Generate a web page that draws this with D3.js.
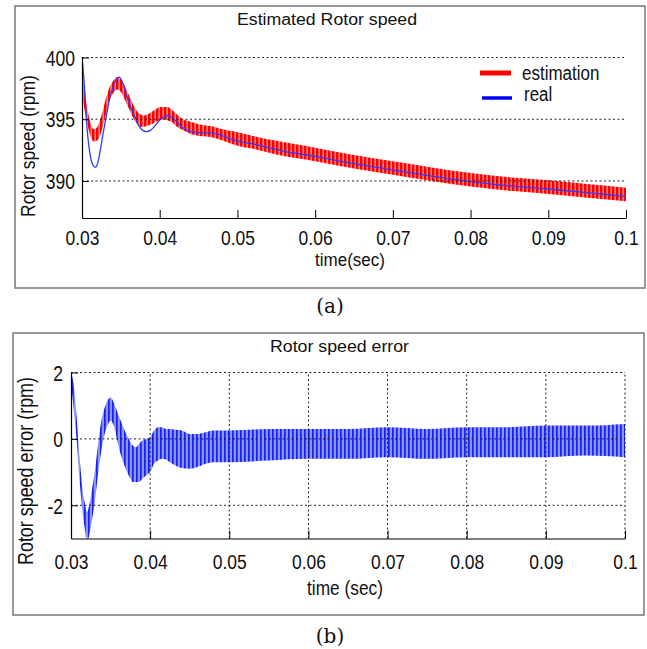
<!DOCTYPE html>
<html>
<head>
<meta charset="utf-8">
<script src="https://cdn.jsdelivr.net/npm/d3@7"></script>
<style>
body { margin: 0; background: #fff; }
text { font-family: "Liberation Sans", Arial, sans-serif; fill: #111; }
</style>
</head>
<body>
<svg id="chart" width="647" height="649"></svg>
<script>
// time axis, shared by both panels
const timeTicks = [0.03, 0.04, 0.05, 0.06, 0.07, 0.08, 0.09, 0.1];
const timeLabels = ["0.03", "0.04", "0.05", "0.06", "0.07", "0.08", "0.09", "0.1"];
const speedTicks = [390, 395, 400];
const errTicks = [-2, 0, 2];
const errLabels = ["-2", "0", "2"];

// (a) real speed [t, rpm]
const realSpeed = [
  [0.0300, 400.0], [0.0303, 397.8], [0.0306, 394.7], [0.0310, 392.3], [0.0314, 391.3],
  [0.0317, 391.1], [0.0320, 391.4], [0.0323, 392.3], [0.0327, 393.8], [0.0332, 395.5],
  [0.0336, 396.8], [0.0340, 397.6], [0.0344, 398.2], [0.0348, 398.4], [0.0352, 398.0],
  [0.0357, 397.0], [0.0362, 396.1], [0.0368, 395.2], [0.0373, 394.5], [0.0378, 394.1],
  [0.0383, 394.0], [0.0388, 394.1], [0.0393, 394.4], [0.0398, 394.8], [0.0403, 395.1],
  [0.0409, 395.3], [0.0414, 395.2], [0.0420, 394.9], [0.0428, 394.4], [0.0436, 394.1],
  [0.0445, 393.95], [0.0455, 393.9], [0.0465, 393.9], [0.0475, 393.8], [0.0495, 393.3],
  [0.0520, 393.0], [0.0560, 392.4], [0.0600, 392.0], [0.0650, 391.4], [0.0700, 390.9],
  [0.0750, 390.4], [0.0800, 389.95], [0.0850, 389.6], [0.0900, 389.35], [0.0950, 389.05],
  [0.1000, 388.75]
];

// (a) estimated speed, ripple envelope [t, low, high]
const estBand = [
  [0.0300, 396.8, 398.8], [0.0305, 395.2, 396.6], [0.0310, 393.8, 394.9], [0.0315, 393.2, 394.2],
  [0.0320, 393.3, 394.4], [0.0325, 394.0, 395.3], [0.0330, 395.2, 396.5], [0.0335, 396.4, 397.5],
  [0.0340, 397.1, 398.1], [0.0345, 397.4, 398.4], [0.0350, 397.2, 398.2], [0.0355, 396.6, 397.7],
  [0.0360, 395.9, 397.0], [0.0365, 395.2, 396.3], [0.0370, 394.7, 395.7], [0.0375, 394.4, 395.4],
  [0.0380, 394.4, 395.3], [0.0385, 394.5, 395.4], [0.0390, 394.6, 395.6], [0.0395, 394.8, 395.8],
  [0.0400, 394.9, 396.0], [0.0405, 395.0, 396.0], [0.0410, 394.9, 396.0], [0.0415, 394.8, 395.8],
  [0.0420, 394.5, 395.5], [0.0430, 394.1, 395.0], [0.0440, 393.8, 394.8], [0.0450, 393.65, 394.6],
  [0.0460, 393.6, 394.5], [0.0470, 393.5, 394.4], [0.0480, 393.3, 394.2], [0.0500, 392.85, 393.95],
  [0.0520, 392.6, 393.65], [0.0550, 392.15, 393.25], [0.0600, 391.6, 392.7], [0.0650, 391.0, 392.1],
  [0.0700, 390.5, 391.6], [0.0750, 390.0, 391.1], [0.0800, 389.55, 390.65], [0.0850, 389.2, 390.3],
  [0.0900, 388.95, 390.05], [0.0950, 388.65, 389.75], [0.1000, 388.35, 389.45]
];

// (b) speed error, ripple envelope [t, low, high]
const errBand = [
  [0.0300, 1.7, 2.0], [0.0303, 1.0, 1.7], [0.0307, 0.0, 0.7], [0.0311, -1.3, -0.6],
  [0.0315, -2.3, -1.6], [0.0318, -2.8, -2.0], [0.0320, -3.1, -2.2], [0.0323, -2.9, -2.0],
  [0.0326, -2.5, -1.6], [0.0330, -1.9, -1.0], [0.0334, -1.1, -0.2], [0.0338, -0.4, 0.5],
  [0.0342, 0.1, 0.9], [0.0346, 0.4, 1.15], [0.0350, 0.55, 1.25], [0.0354, 0.4, 1.1],
  [0.0358, 0.0, 0.85], [0.0362, -0.4, 0.6], [0.0366, -0.7, 0.35], [0.0370, -0.95, 0.15],
  [0.0374, -1.15, -0.05], [0.0378, -1.3, -0.2], [0.0382, -1.3, -0.25], [0.0386, -1.3, -0.15],
  [0.0390, -1.2, -0.05], [0.0395, -1.1, 0.0], [0.0400, -1.0, 0.05], [0.0405, -0.75, 0.25],
  [0.0410, -0.65, 0.35], [0.0415, -0.6, 0.35], [0.0420, -0.62, 0.3], [0.0425, -0.7, 0.3],
  [0.0430, -0.78, 0.28], [0.0440, -0.88, 0.25], [0.0450, -0.9, 0.15], [0.0460, -0.85, 0.15],
  [0.0470, -0.75, 0.2], [0.0480, -0.7, 0.25], [0.0500, -0.7, 0.25], [0.0550, -0.65, 0.3],
  [0.0600, -0.6, 0.3], [0.0650, -0.6, 0.3], [0.0700, -0.55, 0.35], [0.0750, -0.6, 0.3],
  [0.0800, -0.55, 0.35], [0.0850, -0.55, 0.35], [0.0900, -0.55, 0.4], [0.0950, -0.5, 0.4],
  [0.1000, -0.55, 0.45]
];

let svg = d3.select("#chart");
let defs = svg.append("defs");

// vertical stripes give the dense ripple look
function stripes(id, base, line, w) {
  let p = defs.append("pattern")
    .attr("id", id)
    .attr("patternUnits", "userSpaceOnUse")
    .attr("width", 4).attr("height", 10);
  p.append("rect").attr("width", 4).attr("height", 10).attr("fill", base);
  p.append("rect").attr("width", w).attr("height", 10).attr("fill", line);
}
stripes("redRipple", "#ff8585", "#ff0000", 2.4);
stripes("blueRipple", "#8a94f6", "#1620f0", 1.7);

function styleTicks(g, size) {
  g.attr("font-size", null).attr("font-family", null);
  g.select(".domain").attr("stroke", "#000").attr("stroke-width", 1.2);
  g.selectAll(".tick line").attr("stroke", "#000");
  g.selectAll("text").style("font-size", size + "px").attr("fill", "#111");
}

function frame(x, y, w, h) {
  svg.append("rect")
    .attr("x", x).attr("y", y).attr("width", w).attr("height", h)
    .attr("fill", "none").attr("stroke", "#777").attr("stroke-width", 1.5);
}

function gridLine(x1, y1, x2, y2) {
  svg.append("line")
    .attr("x1", x1).attr("y1", y1).attr("x2", x2).attr("y2", y2)
    .attr("stroke", "#222").attr("stroke-width", 1)
    .attr("stroke-dasharray", "2,2.5");
}

/* ---------- panel (a) ---------- */
frame(15, 6, 630, 282);

let xa = d3.scaleLinear().domain([0.03, 0.1]).range([82, 626]);
let ya = d3.scaleLinear().domain([387, 400]).range([218, 57.5]);

svg.append("clipPath").attr("id", "clipA")
  .append("rect").attr("x", 82).attr("y", 57.5).attr("width", 544).attr("height", 160.5);

svg.append("path")
  .datum(estBand)
  .attr("clip-path", "url(#clipA)")
  .attr("fill", "url(#redRipple)")
  .attr("d", d3.area()
    .x(d => xa(d[0]))
    .y0(d => ya(d[1]))
    .y1(d => ya(d[2]))
    .curve(d3.curveMonotoneX));

svg.append("path")
  .datum(realSpeed)
  .attr("clip-path", "url(#clipA)")
  .attr("fill", "none")
  .attr("stroke", "#2f3cff")
  .attr("stroke-width", 1.3)
  .attr("d", d3.line()
    .x(d => xa(d[0]))
    .y(d => ya(d[1]))
    .curve(d3.curveMonotoneX));

speedTicks.forEach(v => gridLine(xa(0.03), ya(v), xa(0.1), ya(v)));

let xAxisA = svg.append("g")
  .attr("transform", `translate(0,${ya(387)})`)
  .call(d3.axisBottom(xa).tickValues(timeTicks).tickFormat((d, i) => timeLabels[i])
    .tickSizeInner(-8).tickSizeOuter(0));
styleTicks(xAxisA, 17.5);
xAxisA.selectAll("text").attr("y", null).attr("dy", null)
  .attr("transform", "translate(0,27) scale(1,1.2)");

let yAxisA = svg.append("g")
  .attr("transform", `translate(${xa(0.03)},0)`)
  .call(d3.axisLeft(ya).tickValues(speedTicks).tickFormat(d => String(d))
    .tickSizeInner(-7).tickSizeOuter(0));
styleTicks(yAxisA, 17.5);
yAxisA.selectAll("text").attr("x", null).attr("dy", null)
  .attr("transform", "translate(-7,7.5) scale(1,1.22)");

svg.append("text")
  .attr("x", 327).attr("y", 25)
  .attr("text-anchor", "middle")
  .attr("textLength", 180).attr("lengthAdjust", "spacingAndGlyphs")
  .style("font-size", "16px")
  .text("Estimated Rotor speed");

svg.append("text")
  .attr("transform", "translate(350,265.5) scale(1,1.05)")
  .attr("text-anchor", "middle")
  .style("font-size", "17px")
  .text("time(sec)");

svg.append("text")
  .attr("transform", "translate(35,146) rotate(-90) scale(1,1.2)")
  .attr("text-anchor", "middle")
  .style("font-size", "17.5px")
  .text("Rotor speed (rpm)");

// legend
svg.append("line").attr("x1", 480).attr("x2", 511).attr("y1", 73).attr("y2", 73)
  .attr("stroke", "#ff0000").attr("stroke-width", 5);
svg.append("text").attr("transform", "translate(522,80) scale(1,1.15)")
  .style("font-size", "17px").text("estimation");
svg.append("line").attr("x1", 482).attr("x2", 512).attr("y1", 98).attr("y2", 98)
  .attr("stroke", "#0000ff").attr("stroke-width", 3.5);
svg.append("text").attr("transform", "translate(524,101) scale(1,1.15)")
  .style("font-size", "17px").text("real");

svg.append("text")
  .attr("x", 330).attr("y", 313)
  .attr("text-anchor", "middle")
  .style("font-family", "'DejaVu Serif', serif")
  .style("font-size", "20px")
  .text("(a)");

/* ---------- panel (b) ---------- */
frame(13, 333, 631, 282);

let xb = d3.scaleLinear().domain([0.03, 0.1]).range([71, 625]);
let yb = d3.scaleLinear().domain([-3, 2]).range([538.5, 372.5]);

svg.append("clipPath").attr("id", "clipB")
  .append("rect").attr("x", 71).attr("y", 372.5).attr("width", 554).attr("height", 166);

svg.append("path")
  .datum(errBand)
  .attr("clip-path", "url(#clipB)")
  .attr("fill", "url(#blueRipple)")
  .attr("d", d3.area()
    .x(d => xb(d[0]))
    .y0(d => yb(d[1]))
    .y1(d => yb(d[2]))
    .curve(d3.curveMonotoneX));

errTicks.forEach(v => gridLine(xb(0.03), yb(v), xb(0.1), yb(v)));
timeTicks.slice(1).forEach(t => gridLine(xb(t), yb(-3), xb(t), yb(2)));

let xAxisB = svg.append("g")
  .attr("transform", `translate(0,${yb(-3)})`)
  .call(d3.axisBottom(xb).tickValues(timeTicks).tickFormat((d, i) => timeLabels[i])
    .tickSizeInner(-8).tickSizeOuter(0));
styleTicks(xAxisB, 17.5);
xAxisB.selectAll("text").attr("y", null).attr("dy", null)
  .attr("transform", "translate(0,30) scale(1,1.2)");

let yAxisB = svg.append("g")
  .attr("transform", `translate(${xb(0.03)},0)`)
  .call(d3.axisLeft(yb).tickValues(errTicks).tickFormat((d, i) => errLabels[i])
    .tickSizeInner(-7).tickSizeOuter(0));
styleTicks(yAxisB, 17.5);
yAxisB.selectAll("text").attr("x", null).attr("dy", null)
  .attr("transform", "translate(-8,8) scale(1,1.22)");

svg.append("text")
  .attr("x", 339.5).attr("y", 352)
  .attr("text-anchor", "middle")
  .attr("textLength", 139).attr("lengthAdjust", "spacingAndGlyphs")
  .style("font-size", "16px")
  .text("Rotor speed error");

svg.append("text")
  .attr("transform", "translate(345,595) scale(1,1.15)")
  .attr("text-anchor", "middle")
  .style("font-size", "17.3px")
  .text("time (sec)");

svg.append("text")
  .attr("transform", "translate(33,471) rotate(-90) scale(1,1.2)")
  .attr("text-anchor", "middle")
  .style("font-size", "17.9px")
  .text("Rotor speed error (rpm)");

svg.append("text")
  .attr("x", 330).attr("y", 643)
  .attr("text-anchor", "middle")
  .style("font-family", "'DejaVu Serif', serif")
  .style("font-size", "20px")
  .text("(b)");
</script>
</body>
</html>
